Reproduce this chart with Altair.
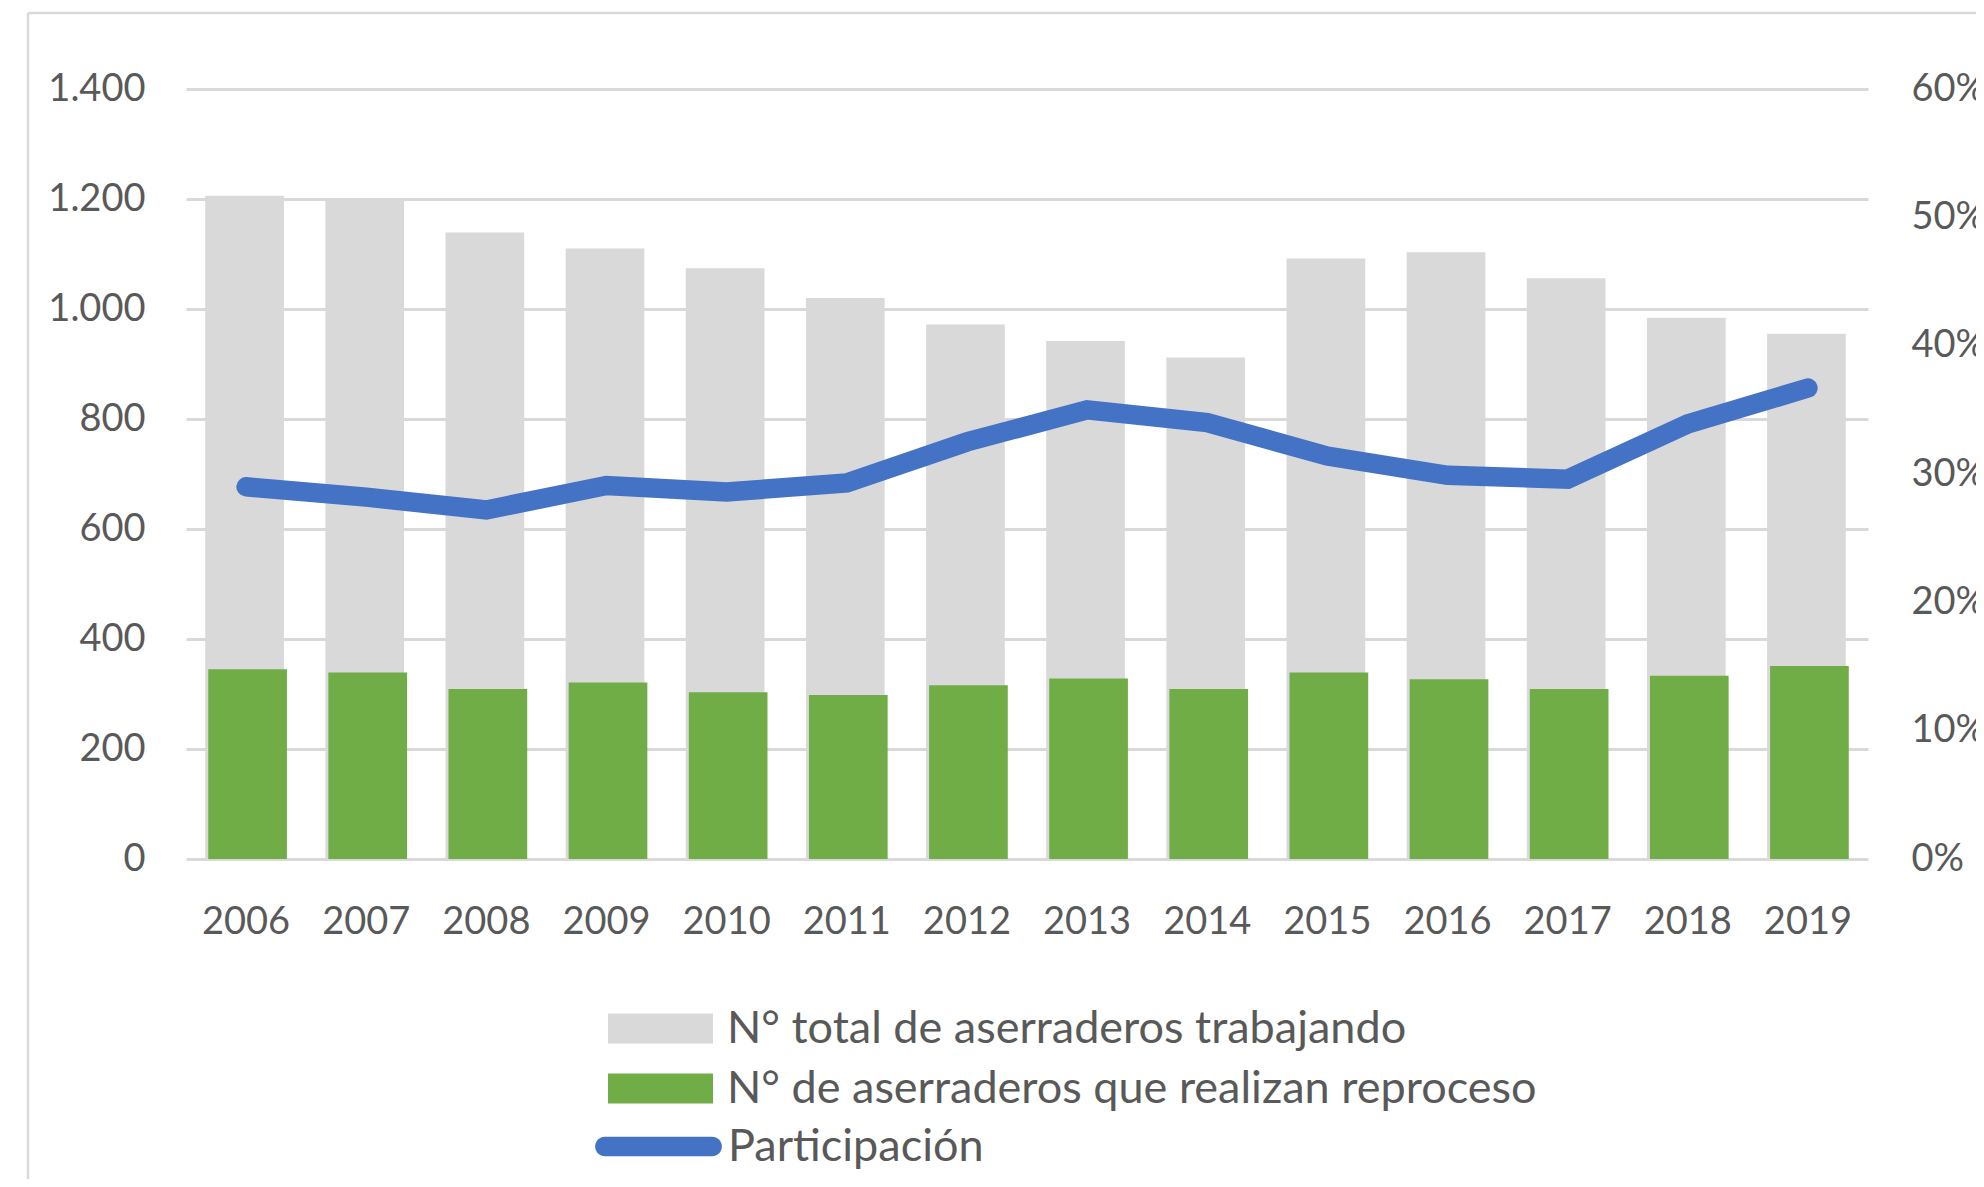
import altair as alt
import pandas as pd

years = [str(y) for y in range(2006, 2020)]
total = [1206, 1200, 1139, 1110, 1074, 1020, 972, 942, 912, 1092, 1103, 1056, 984, 955]
reproceso = [345, 339, 309, 321, 303, 298, 316, 328, 309, 339, 327, 309, 333, 351]
participacion = [0.290, 0.282, 0.272, 0.291, 0.286, 0.293, 0.325, 0.350, 0.340,
                 0.314, 0.299, 0.296, 0.339, 0.367]

S1 = "N° total de aserraderos trabajando"
S2 = "N° de aserraderos que realizan reproceso"
S3 = "Participación"

y_ticks = [0, 200, 400, 600, 800, 1000, 1200, 1400]
pct_ticks = [0, 0.1, 0.2, 0.3, 0.4, 0.5, 0.6]

FONT = "Lato"
TXT = "#595959"
GRID = "#D9D9D9"

bars_df = pd.DataFrame({
    "year": years * 2,
    "value": total + reproceso,
    "serie": [S1] * len(years) + [S2] * len(years),
})
line_df = pd.DataFrame({"year": years, "pct": participacion, "serie": [S3] * len(years)})

W, H = 1682, 770

xenc = alt.X(
    "year:N",
    sort=years,
    scale=alt.Scale(paddingInner=0.345, paddingOuter=0.1725),
    axis=alt.Axis(title=None, labelAngle=0, labelFont=FONT, labelFontSize=38,
                  labelColor=TXT, labelPadding=44, ticks=False, domain=False, grid=False),
)

yenc = alt.Y(
    "value:Q",
    scale=alt.Scale(domain=[0, 1400], nice=False),
    axis=alt.Axis(title=None, values=y_ticks,
                  labelExpr="replace(format(datum.value, ','), ',', '.')",
                  labelFont=FONT, labelFontSize=38, labelColor=TXT, labelPadding=41,
                  ticks=False, tickSize=0, domain=False, gridColor=GRID, gridWidth=3),
)

color = alt.Color(
    "serie:N",
    scale=alt.Scale(domain=[S1, S2], range=["#D9D9D9", "#70AD47"]),
    legend=alt.Legend(title=None, orient="none", legendX=452, legendY=917,
                      symbolType="M-3.5,-1H3.5V1H-3.5Z", symbolSize=900,
                      symbolStrokeWidth=0, labelFont=FONT, labelFontSize=45,
                      labelColor=TXT, labelOffset=44, rowPadding=14, labelLimit=0,
                      padding=0),
)

base = alt.Chart(bars_df)
grey = base.transform_filter(alt.datum.serie == S1).mark_bar(xOffset=-1.5).encode(
    x=xenc, y=yenc, color=color)
green = base.transform_filter(alt.datum.serie == S2).mark_bar(xOffset=1.5).encode(
    x=xenc, y=yenc, color=color)
bars = alt.layer(grey, green)

line = alt.Chart(line_df).mark_line(strokeWidth=19.5, strokeCap="round").encode(
    x=xenc,
    y=alt.Y("pct:Q", scale=alt.Scale(domain=[0, 0.6], nice=False),
            axis=alt.Axis(title=None, orient="right", values=pct_ticks, format=".0%",
                          grid=False, labelFont=FONT, labelFontSize=38, labelColor=TXT,
                          labelPadding=43, ticks=False, tickSize=0, domain=False)),
    stroke=alt.Stroke("serie:N", scale=alt.Scale(domain=[S3], range=["#4472C4"]),
                      legend=alt.Legend(title=None, orient="none", legendX=450, legendY=1035,
                                        symbolType="M-5.5,-1H5.5A1,1 0 0 1 5.5,1H-5.5A1,1 0 0 1 -5.5,-1Z",
                                        symbolSize=380, symbolStrokeWidth=0,
                                        symbolFillColor="#4472C4",
                                        labelFont=FONT, labelFontSize=45, labelColor=TXT,
                                        labelOffset=47, labelLimit=0, padding=0)),
)

frame = pd.DataFrame({"k": [0]})
border_top = alt.Chart(frame).mark_rule(color=GRID, strokeWidth=2.5).encode(
    x=alt.value(-158), x2=alt.value(W + 300), y=alt.value(-76))
border_left = alt.Chart(frame).mark_rule(color=GRID, strokeWidth=2.5).encode(
    x=alt.value(-158), y=alt.value(-76), y2=alt.value(H + 500))

chart = alt.layer(bars, line, border_top, border_left).resolve_scale(
    y="independent", color="independent"
).properties(
    width=W, height=H,
    autosize=alt.AutoSizeParams(type="none"),
    padding={"left": 178, "top": 81, "right": 108, "bottom": 320},
    background="white",
).configure_view(stroke=None)

chart.save("out.html", embed_options={"renderer": "svg", "actions": False})
